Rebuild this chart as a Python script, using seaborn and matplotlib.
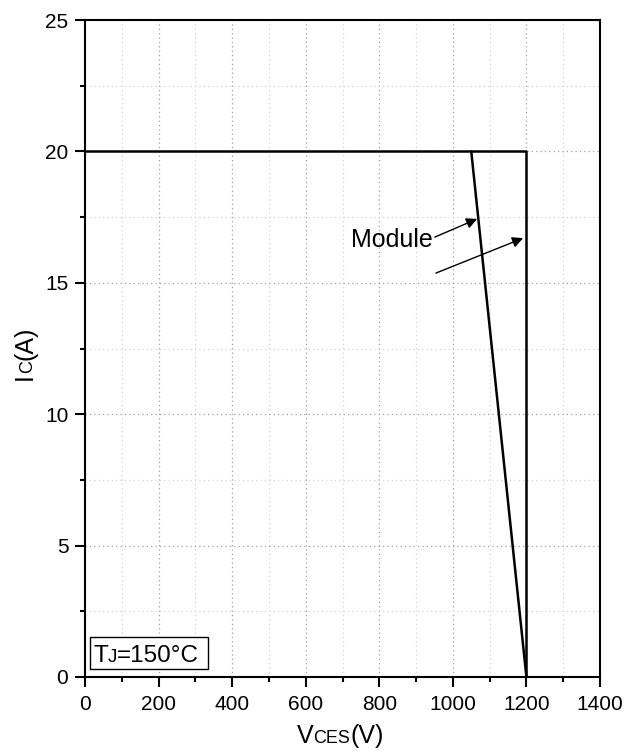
import matplotlib
matplotlib.use("Agg")
import matplotlib.pyplot as plt
import seaborn as sns
import pandas as pd
from matplotlib.ticker import MultipleLocator
from matplotlib.patches import Rectangle

# ---- data ----
rbsoa_v = [0, 1200, 1200]          # chip RBSOA boundary (V)
rbsoa_i = [20, 20, 0]              # (A)
module_v = [1050, 1200]            # module RBSOA boundary (V)
module_i = [20, 0]                 # (A)
x_ticks = [0, 200, 400, 600, 800, 1000, 1200, 1400]
y_ticks = [0, 5, 10, 15, 20, 25]

sns.set_theme(style="ticks")
plt.rcParams['font.family'] = ['Liberation Sans', 'DejaVu Sans']
plt.rcParams['text.color'] = 'black'
plt.rcParams['axes.labelcolor'] = 'black'
plt.rcParams['xtick.color'] = 'black'
plt.rcParams['ytick.color'] = 'black'

W, H = 636, 753
fig = plt.figure(figsize=(W / 100, H / 100), dpi=100)
ax = fig.add_axes([85 / W, 76 / H, 515 / W, 657 / H])

df_chip = pd.DataFrame({"V": rbsoa_v, "I": rbsoa_i})
df_mod = pd.DataFrame({"V": module_v, "I": module_i})
sns.lineplot(data=df_chip, x="V", y="I", sort=False, estimator=None,
             color="black", lw=1.8, ax=ax, zorder=3)
sns.lineplot(data=df_mod, x="V", y="I", sort=False, estimator=None,
             color="black", lw=1.8, ax=ax, zorder=3)

ax.set_xlim(0, 1400)
ax.set_ylim(0, 25)
ax.set_xticks(x_ticks)
ax.set_yticks(y_ticks)
ax.set_xticklabels([str(v) for v in x_ticks])
ax.set_yticklabels([str(v) for v in y_ticks])
ax.xaxis.set_minor_locator(MultipleLocator(100))
ax.yaxis.set_minor_locator(MultipleLocator(2.5))
ax.set_xlabel("")
ax.set_ylabel("")

for s in ax.spines.values():
    s.set_visible(True)
    s.set_color("black")
    s.set_linewidth(1.5)

ax.tick_params(which="major", direction="out", length=7, width=1.5,
               labelsize=15, colors="black", labelcolor="black", pad=5)
ax.tick_params(which="minor", direction="out", length=3.5, width=1.5,
               colors="black")
ax.tick_params(axis="x", which="major", pad=6)
ax.set_axisbelow(True)
ax.grid(which="major", color="#a0a0a0", linestyle=(0, (1, 2.5)), linewidth=0.9)
ax.grid(which="minor", color="#d4d4d4", linestyle=(0, (1, 2.5)), linewidth=0.9)

# ---- annotation ----
ax.text(723, 16.37, "Module", fontsize=18, ha="left", va="baseline",
        color="black", zorder=4)
arrow = dict(arrowstyle="-|>", mutation_scale=16, lw=1.0, color="black",
             shrinkA=0, shrinkB=0)
ax.annotate("", xy=(1066, 17.43), xytext=(951, 16.74), arrowprops=arrow)
ax.annotate("", xy=(1191, 16.70), xytext=(954, 15.37), arrowprops=arrow)

# ---- mixed-size labels ----
DESC = 0.21


def chain_h(parts, x_px, base_px, zorder=6):
    """horizontal text with mixed sizes on a common baseline"""
    first = fig.text(x_px / W, (H - base_px) / H, parts[0][0],
                     fontsize=parts[0][1], ha="left", va="baseline",
                     color="black", zorder=zorder)
    prev, prev_size = first, parts[0][1]
    for txt, size in parts[1:]:
        off = DESC * (prev_size - size)
        prev = ax.annotate(txt, xy=(1, 0), xycoords=prev,
                           xytext=(0, off), textcoords="offset points",
                           fontsize=size, ha="left", va="bottom",
                           color="black", annotation_clip=False)
        prev.set_zorder(zorder)
        prev_size = size
    return first


def chain_v(parts, base_px, y_px):
    """rotated (90 deg) text with mixed sizes on a common baseline"""
    size0 = parts[0][1]
    first = fig.text((base_px + DESC * size0 * 100 / 72) / W, (H - y_px) / H,
                     parts[0][0], fontsize=size0, rotation=90,
                     ha="right", va="bottom", color="black")
    prev, prev_size = first, size0
    for txt, size in parts[1:]:
        off = -DESC * (prev_size - size)
        prev = ax.annotate(txt, xy=(1, 1), xycoords=prev,
                           xytext=(off, 0), textcoords="offset points",
                           fontsize=size, rotation=90, ha="right", va="bottom",
                           color="black", annotation_clip=False)
        prev_size = size
    return first


chain_h([("V", 18), ("CES", 13), ("(V)", 18)], 297, 743)
chain_v([("I", 18), ("C", 13), ("(A)", 18)], 32, 380)

# ---- Tj box ----
box = Rectangle((90 / W, (H - 669) / H), 118 / W, 32 / H,
                transform=fig.transFigure, facecolor="white",
                edgecolor="black", lw=1.0, zorder=5, clip_on=False)
ax.add_artist(box)
chain_h([("T", 17.5), ("J", 13.5), ("=150°C", 17.5)], 93, 662, zorder=7)

fig.savefig("out.png", dpi=100, facecolor="white")
